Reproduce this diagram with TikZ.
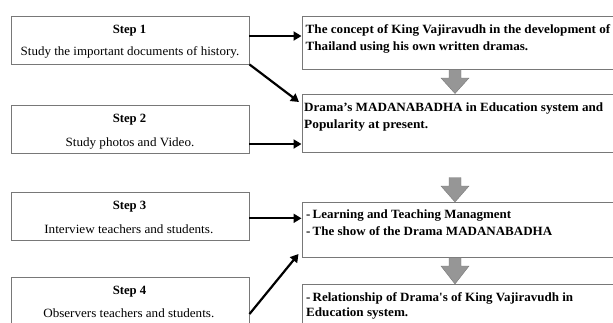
\documentclass[tikz,border=0pt]{standalone}
\usepackage{fontspec}
\usepackage{graphicx}
\setmainfont{Liberation Serif}
\usetikzlibrary{arrows.meta}
\definecolor{boxline}{RGB}{120,120,120}
\definecolor{garrow}{RGB}{150,150,150}
\newcommand{\fitw}[2]{\resizebox{#1}{\height}{#2}}
\tikzset{
  stepbox/.style={draw=boxline, line width=0.8pt, minimum width=237.5pt, minimum height=48pt, inner sep=0pt},
  resbox/.style={draw=boxline, line width=0.8pt, anchor=north west, inner sep=0pt},
  ltext/.style={anchor=base, inner sep=0pt, font=\fontsize{12.6}{14}\selectfont},
  rtext/.style={anchor=base west, inner sep=0pt, font=\bfseries\fontsize{12.6}{14}\selectfont},
  blk/.style={line width=2.2pt, -{Triangle[length=8pt,width=9pt]}},
  garr/.style={fill=garrow, draw=garrow!80!black, line width=0.4pt}
}
\newcommand{\grayarrow}[3]{% x center, y top, y tip
  \filldraw[garr] ({#1-6},{#2}) -- ({#1+6},{#2}) -- ({#1+6},{#2+8.5}) -- ({#1+14},{#2+8.5}) -- ({#1},{#3}) -- ({#1-14},{#2+8.5}) -- ({#1-6},{#2+8.5}) -- cycle;}
\begin{document}
\begin{tikzpicture}[x=1pt,y=-1pt]
\useasboundingbox (0,0) rectangle (613,322);
% left step boxes
\node[stepbox] (s1) at (130.3,40) {};
\node[stepbox] (s2) at (130.3,129.5) {};
\node[stepbox] (s3) at (130.3,216) {};
\node[stepbox] (s4) at (130.3,301.5) {};
\node[ltext] (s1a) at (129.5,33.5) {\fitw{33.5pt}{\textbf{Step 1}}};
\node[ltext] (s1b) at (130,55.8) {\fitw{218.5pt}{Study the important documents of history.}};
\node[ltext] (s2a) at (129.5,122.5) {\fitw{33.5pt}{\textbf{Step 2}}};
\node[ltext] (s2b) at (130,146) {\fitw{128.7pt}{Study photos and Video.}};
\node[ltext] (s3a) at (129.5,209.2) {\fitw{33.5pt}{\textbf{Step 3}}};
\node[ltext] (s3b) at (128.8,233.2) {\fitw{169pt}{Interview teachers and students.}};
\node[ltext] (s4a) at (129.5,294.2) {\fitw{33.5pt}{\textbf{Step 4}}};
\node[ltext] (s4b) at (128.8,317.5) {\fitw{171pt}{Observers teachers and students.}};
% right boxes
\node[resbox, minimum width=330pt, minimum height=53.5pt] (r1) at (301.5,15.5) {};
\node[resbox, minimum width=330pt, minimum height=57.5pt] (r2) at (301.5,94.3) {};
\node[resbox, minimum width=330pt, minimum height=55pt] (r3) at (301.5,202.3) {};
\node[resbox, minimum width=330pt, minimum height=60pt] (r4) at (301.5,284.3) {};
\node[rtext] (t1a) at (305.5,33.6) {\fitw{304.5pt}{The concept of King Vajiravudh in the development of}};
\node[rtext] (t1b) at (305.5,50) {\fitw{222.5pt}{Thailand using his own written dramas.}};
\node[rtext] (t2a) at (304,111.6) {\fitw{299pt}{Drama’s MADANABADHA in Education system and}};
\node[rtext] (t2b) at (304,128.5) {\fitw{124pt}{Popularity at present.}};
\node[rtext] (t3a) at (306,218.6) {\fitw{205pt}{-\,Learning and Teaching Managment}};
\node[rtext] (t3b) at (306,235) {\fitw{246pt}{-\,The show of the Drama MADANABADHA}};
\node[rtext] (t4a) at (306,301) {\fitw{267pt}{-\,Relationship of Drama\textquotesingle s of King Vajiravudh in}};
\node[rtext] (t4b) at (306,316.3) {\fitw{102pt}{Education system.}};
% black arrows
\draw[blk] (s1.east |- 0,36) -- (r1.west |- 0,36);
\draw[blk] (s1.south east) -- (299,102);
\draw[blk] (s2.east |- 0,144) -- (r2.west |- 0,144);
\draw[blk] (s3.east |- 0,218.3) -- (r3.west |- 0,218.3);
\coordinate (c4) at (249.5,314);
\draw[blk] (c4) -- (298.5,254);
% gray arrows
\grayarrow{455}{69.5}{93.5}
\grayarrow{455}{177.5}{202}
\grayarrow{455}{257.5}{284}
\end{tikzpicture}
\end{document}
